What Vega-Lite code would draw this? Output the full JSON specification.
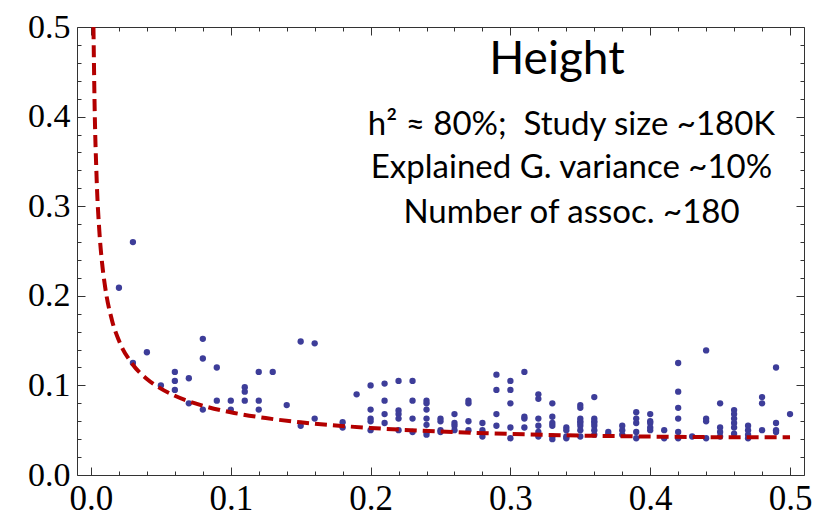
{
  "$schema": "https://vega.github.io/schema/vega-lite/v6.json",
  "width": 727,
  "height": 448,
  "autosize": {"type": "none"},
  "padding": {"left": 77, "top": 27, "right": 20, "bottom": 43},
  "background": "white",
  "config": {
    "view": {"stroke": null},
    "axis": {
      "domainColor": "#333",
      "tickColor": "#333",
      "grid": false,
      "labelFont": "Liberation Serif",
      "labelColor": "black",
      "title": null
    }
  },
  "datasets": {
    "assoc": [
      {"f": 0.02, "e": 0.209},
      {"f": 0.03, "e": 0.260}, {"f": 0.03, "e": 0.125},
      {"f": 0.04, "e": 0.137},
      {"f": 0.05, "e": 0.100},
      {"f": 0.06, "e": 0.115}, {"f": 0.06, "e": 0.105}, {"f": 0.06, "e": 0.095},
      {"f": 0.07, "e": 0.108}, {"f": 0.07, "e": 0.080},
      {"f": 0.08, "e": 0.152}, {"f": 0.08, "e": 0.130}, {"f": 0.08, "e": 0.073},
      {"f": 0.09, "e": 0.120}, {"f": 0.09, "e": 0.083},
      {"f": 0.10, "e": 0.083}, {"f": 0.10, "e": 0.073},
      {"f": 0.11, "e": 0.098}, {"f": 0.11, "e": 0.093}, {"f": 0.11, "e": 0.083},
      {"f": 0.12, "e": 0.115}, {"f": 0.12, "e": 0.083}, {"f": 0.12, "e": 0.073},
      {"f": 0.13, "e": 0.115},
      {"f": 0.14, "e": 0.078},
      {"f": 0.15, "e": 0.149}, {"f": 0.15, "e": 0.055},
      {"f": 0.16, "e": 0.147}, {"f": 0.16, "e": 0.063},
      {"f": 0.18, "e": 0.059}, {"f": 0.18, "e": 0.053},
      {"f": 0.19, "e": 0.090},
      {"f": 0.20, "e": 0.100}, {"f": 0.20, "e": 0.073}, {"f": 0.20, "e": 0.063}, {"f": 0.20, "e": 0.060}, {"f": 0.20, "e": 0.050},
      {"f": 0.21, "e": 0.102}, {"f": 0.21, "e": 0.083}, {"f": 0.21, "e": 0.068}, {"f": 0.21, "e": 0.058},
      {"f": 0.22, "e": 0.105}, {"f": 0.22, "e": 0.072}, {"f": 0.22, "e": 0.068}, {"f": 0.22, "e": 0.063}, {"f": 0.22, "e": 0.050},
      {"f": 0.23, "e": 0.105}, {"f": 0.23, "e": 0.083}, {"f": 0.23, "e": 0.063}, {"f": 0.23, "e": 0.048},
      {"f": 0.24, "e": 0.083}, {"f": 0.24, "e": 0.080}, {"f": 0.24, "e": 0.073}, {"f": 0.24, "e": 0.063}, {"f": 0.24, "e": 0.056}, {"f": 0.24, "e": 0.048}, {"f": 0.24, "e": 0.045},
      {"f": 0.25, "e": 0.063}, {"f": 0.25, "e": 0.060}, {"f": 0.25, "e": 0.050}, {"f": 0.25, "e": 0.048},
      {"f": 0.26, "e": 0.068}, {"f": 0.26, "e": 0.058}, {"f": 0.26, "e": 0.055}, {"f": 0.26, "e": 0.050},
      {"f": 0.27, "e": 0.083}, {"f": 0.27, "e": 0.080}, {"f": 0.27, "e": 0.060}, {"f": 0.27, "e": 0.050},
      {"f": 0.28, "e": 0.058}, {"f": 0.28, "e": 0.050}, {"f": 0.28, "e": 0.043},
      {"f": 0.29, "e": 0.112}, {"f": 0.29, "e": 0.095}, {"f": 0.29, "e": 0.068}, {"f": 0.29, "e": 0.055},
      {"f": 0.30, "e": 0.105}, {"f": 0.30, "e": 0.095}, {"f": 0.30, "e": 0.080}, {"f": 0.30, "e": 0.053}, {"f": 0.30, "e": 0.041},
      {"f": 0.31, "e": 0.115}, {"f": 0.31, "e": 0.065}, {"f": 0.31, "e": 0.063}, {"f": 0.31, "e": 0.053},
      {"f": 0.32, "e": 0.090}, {"f": 0.32, "e": 0.085}, {"f": 0.32, "e": 0.063}, {"f": 0.32, "e": 0.055}, {"f": 0.32, "e": 0.048}, {"f": 0.32, "e": 0.043},
      {"f": 0.33, "e": 0.080}, {"f": 0.33, "e": 0.065}, {"f": 0.33, "e": 0.058}, {"f": 0.33, "e": 0.055}, {"f": 0.33, "e": 0.043}, {"f": 0.33, "e": 0.040},
      {"f": 0.34, "e": 0.053}, {"f": 0.34, "e": 0.050}, {"f": 0.34, "e": 0.043}, {"f": 0.34, "e": 0.041},
      {"f": 0.35, "e": 0.078}, {"f": 0.35, "e": 0.075}, {"f": 0.35, "e": 0.063}, {"f": 0.35, "e": 0.060}, {"f": 0.35, "e": 0.058}, {"f": 0.35, "e": 0.055}, {"f": 0.35, "e": 0.050}, {"f": 0.35, "e": 0.043},
      {"f": 0.36, "e": 0.087}, {"f": 0.36, "e": 0.063}, {"f": 0.36, "e": 0.060}, {"f": 0.36, "e": 0.058}, {"f": 0.36, "e": 0.055}, {"f": 0.36, "e": 0.050}, {"f": 0.36, "e": 0.045},
      {"f": 0.37, "e": 0.048}, {"f": 0.37, "e": 0.045},
      {"f": 0.38, "e": 0.055}, {"f": 0.38, "e": 0.050}, {"f": 0.38, "e": 0.045},
      {"f": 0.39, "e": 0.070}, {"f": 0.39, "e": 0.063}, {"f": 0.39, "e": 0.058}, {"f": 0.39, "e": 0.048}, {"f": 0.39, "e": 0.041},
      {"f": 0.40, "e": 0.068}, {"f": 0.40, "e": 0.060}, {"f": 0.40, "e": 0.058}, {"f": 0.40, "e": 0.053}, {"f": 0.40, "e": 0.050},
      {"f": 0.41, "e": 0.050}, {"f": 0.41, "e": 0.041},
      {"f": 0.42, "e": 0.125}, {"f": 0.42, "e": 0.093}, {"f": 0.42, "e": 0.075}, {"f": 0.42, "e": 0.063}, {"f": 0.42, "e": 0.048}, {"f": 0.42, "e": 0.041},
      {"f": 0.43, "e": 0.043},
      {"f": 0.44, "e": 0.139}, {"f": 0.44, "e": 0.063}, {"f": 0.44, "e": 0.060}, {"f": 0.44, "e": 0.041},
      {"f": 0.45, "e": 0.080}, {"f": 0.45, "e": 0.053}, {"f": 0.45, "e": 0.048}, {"f": 0.45, "e": 0.043},
      {"f": 0.46, "e": 0.0725}, {"f": 0.46, "e": 0.068}, {"f": 0.46, "e": 0.063}, {"f": 0.46, "e": 0.058}, {"f": 0.46, "e": 0.053}, {"f": 0.46, "e": 0.046},
      {"f": 0.47, "e": 0.055}, {"f": 0.47, "e": 0.050}, {"f": 0.47, "e": 0.045}, {"f": 0.47, "e": 0.041},
      {"f": 0.48, "e": 0.087}, {"f": 0.48, "e": 0.080}, {"f": 0.48, "e": 0.050},
      {"f": 0.49, "e": 0.120}, {"f": 0.49, "e": 0.058}, {"f": 0.49, "e": 0.050}, {"f": 0.49, "e": 0.048},
      {"f": 0.50, "e": 0.068}
    ],
    "curve": [
      {"f": 0.00177, "e": 0.5},
      {"f": 0.0025, "e": 0.4205},
      {"f": 0.004, "e": 0.3327},
      {"f": 0.006, "e": 0.2719},
      {"f": 0.008, "e": 0.2357},
      {"f": 0.01, "e": 0.2111},
      {"f": 0.015, "e": 0.1728},
      {"f": 0.02, "e": 0.150},
      {"f": 0.03, "e": 0.1231},
      {"f": 0.04, "e": 0.1072},
      {"f": 0.05, "e": 0.0964},
      {"f": 0.06, "e": 0.0884},
      {"f": 0.08, "e": 0.0774},
      {"f": 0.10, "e": 0.0700},
      {"f": 0.125, "e": 0.0635},
      {"f": 0.15, "e": 0.0588},
      {"f": 0.20, "e": 0.0525},
      {"f": 0.25, "e": 0.0485},
      {"f": 0.30, "e": 0.0458},
      {"f": 0.35, "e": 0.0440},
      {"f": 0.40, "e": 0.0429},
      {"f": 0.45, "e": 0.0422},
      {"f": 0.50, "e": 0.0420}
    ],
    "notes": [
      {"line": "h² ≈ 80%;\u00a0 Study size ~180K", "pos": 0.379},
      {"line": "Explained G. variance ~10%", "pos": 0.3318},
      {"line": "Number of assoc. ~180", "pos": 0.2816}
    ],
    "heading": [
      {"line": "Height", "pos": 0.447}
    ]
  },
  "resolve": {"axis": {"x": "independent", "y": "independent"}},
  "layer": [
    {
      "data": {"name": "assoc"},
      "mark": {"type": "circle", "size": 40, "opacity": 1, "color": "#3d3d99"},
      "encoding": {
        "x": {
          "field": "f", "type": "quantitative",
          "scale": {"domain": [-0.01, 0.51], "nice": false, "zero": false},
          "axis": {
            "orient": "bottom",
            "values": [0, 0.02, 0.04, 0.06, 0.08, 0.1, 0.12, 0.14, 0.16, 0.18, 0.2, 0.22, 0.24, 0.26, 0.28, 0.3, 0.32, 0.34, 0.36, 0.38, 0.4, 0.42, 0.44, 0.46, 0.48, 0.5],
            "labelExpr": "abs(datum.value*10 - round(datum.value*10)) < 0.001 ? format(datum.value, '.1f') : ''",
            "tickSize": {"condition": {"test": "abs(datum.value*10 - round(datum.value*10)) < 0.001", "value": -8}, "value": -4},
            "labelFontSize": 35,
            "labelPadding": 14,
            "labelFlush": false,
            "labelOverlap": false
          }
        },
        "y": {
          "field": "e", "type": "quantitative",
          "scale": {"domain": [0, 0.5], "nice": false, "zero": false},
          "axis": {
            "orient": "left",
            "values": [0, 0.02, 0.04, 0.06, 0.08, 0.1, 0.12, 0.14, 0.16, 0.18, 0.2, 0.22, 0.24, 0.26, 0.28, 0.3, 0.32, 0.34, 0.36, 0.38, 0.4, 0.42, 0.44, 0.46, 0.48, 0.5],
            "labelExpr": "abs(datum.value*10 - round(datum.value*10)) < 0.001 ? format(datum.value, '.1f') : ''",
            "tickSize": {"condition": {"test": "abs(datum.value*10 - round(datum.value*10)) < 0.001", "value": -8}, "value": -4},
            "labelFontSize": 34,
            "labelPadding": 15,
            "labelFlush": false,
            "labelOverlap": false
          }
        }
      }
    },
    {
      "data": {"name": "curve"},
      "mark": {"type": "line", "color": "#b30000", "strokeWidth": 4, "strokeDash": [12, 6], "interpolate": "monotone", "clip": true},
      "encoding": {
        "x": {
          "field": "f", "type": "quantitative",
          "axis": {
            "orient": "top",
            "values": [0, 0.02, 0.04, 0.06, 0.08, 0.1, 0.12, 0.14, 0.16, 0.18, 0.2, 0.22, 0.24, 0.26, 0.28, 0.3, 0.32, 0.34, 0.36, 0.38, 0.4, 0.42, 0.44, 0.46, 0.48, 0.5],
            "labels": false,
            "tickSize": {"condition": {"test": "abs(datum.value*10 - round(datum.value*10)) < 0.001", "value": -8}, "value": -4}
          }
        },
        "y": {
          "field": "e", "type": "quantitative",
          "axis": {
            "orient": "right",
            "values": [0, 0.02, 0.04, 0.06, 0.08, 0.1, 0.12, 0.14, 0.16, 0.18, 0.2, 0.22, 0.24, 0.26, 0.28, 0.3, 0.32, 0.34, 0.36, 0.38, 0.4, 0.42, 0.44, 0.46, 0.48, 0.5],
            "labels": false,
            "tickSize": {"condition": {"test": "abs(datum.value*10 - round(datum.value*10)) < 0.001", "value": -8}, "value": -4}
          }
        }
      }
    },
    {
      "data": {"name": "heading"},
      "mark": {"type": "text", "font": "Lato", "fontSize": 46, "color": "black", "align": "center", "baseline": "alphabetic"},
      "encoding": {
        "x": {"datum": 0.3333, "type": "quantitative", "axis": null},
        "y": {"field": "pos", "type": "quantitative", "axis": null},
        "text": {"field": "line"}
      }
    },
    {
      "data": {"name": "notes"},
      "mark": {"type": "text", "font": "Lato", "fontSize": 33, "color": "black", "align": "center", "baseline": "alphabetic"},
      "encoding": {
        "x": {"datum": 0.3437, "type": "quantitative", "axis": null},
        "y": {"field": "pos", "type": "quantitative", "axis": null},
        "text": {"field": "line"}
      }
    }
  ]
}
